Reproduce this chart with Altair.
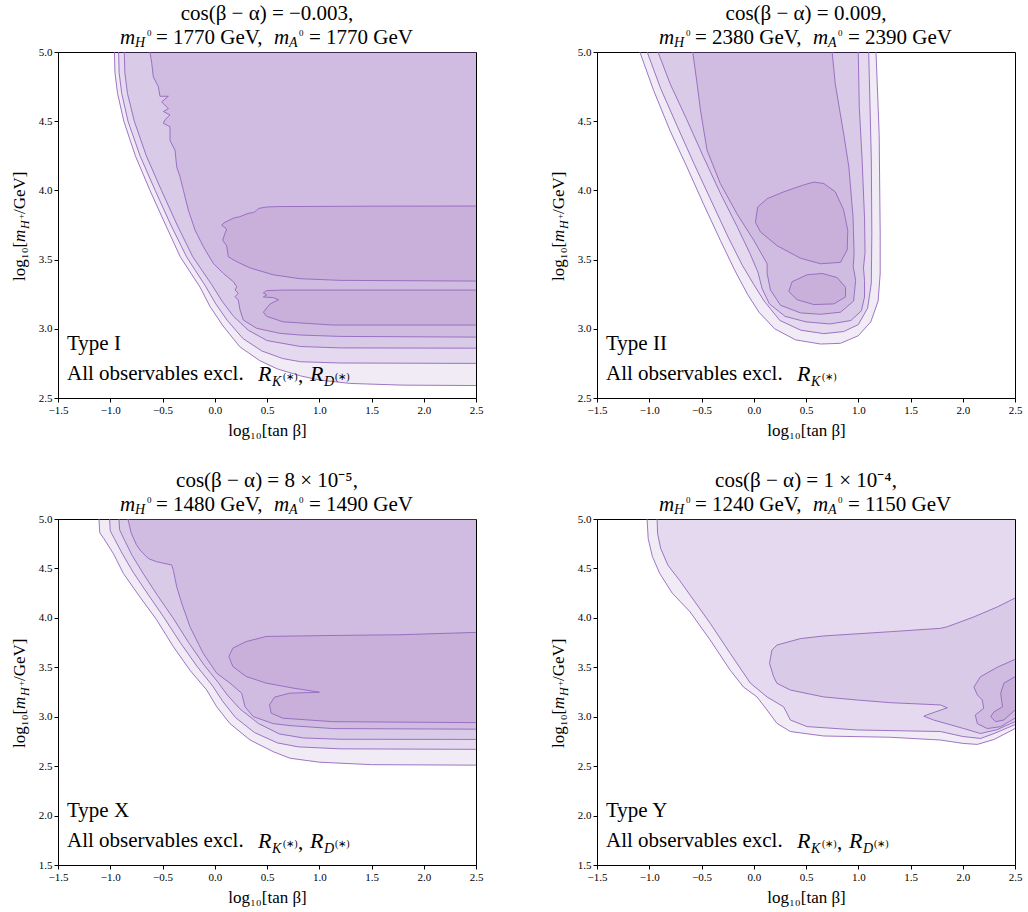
import altair as alt
import pandas as pd

# ---------------------------------------------------------------- data
X_RANGE = [-1.5, 2.5]
Y_RANGE_TOP = [2.5, 5.0]
Y_RANGE_BOTTOM = [1.5, 5.0]
X_TICKS = [-1.5, -1.0, -0.5, 0.0, 0.5, 1.0, 1.5, 2.0, 2.5]
Y_TICKS_TOP = [2.5, 3.0, 3.5, 4.0, 4.5, 5.0]
Y_TICKS_BOTTOM = [1.5, 2.0, 2.5, 3.0, 3.5, 4.0, 4.5, 5.0]

# ---- Type I contour lines (log10 tan beta, log10 mH+)
I_L1 = [(-0.96, 5.0), (-0.955, 4.85), (-0.93, 4.70), (-0.87, 4.50), (-0.76, 4.25), (-0.62, 4.00),
        (-0.47, 3.75), (-0.33, 3.52), (-0.14, 3.30), (-0.045, 3.16), (0.08, 3.02), (0.24, 2.87),
        (0.43, 2.77), (0.60, 2.71), (0.82, 2.66), (1.0, 2.63), (1.3, 2.605), (1.8, 2.593), (2.5, 2.59)]
I_L2 = [(-0.92, 5.0), (-0.915, 4.85), (-0.89, 4.70), (-0.83, 4.50), (-0.715, 4.25), (-0.57, 4.00),
        (-0.42, 3.75), (-0.27, 3.52), (-0.09, 3.31), (0.01, 3.18), (0.12, 3.06), (0.27, 2.93),
        (0.45, 2.84), (0.65, 2.785), (0.82, 2.762), (1.2, 2.753), (2.5, 2.75)]
I_L3 = [(-0.866, 5.0), (-0.86, 4.85), (-0.835, 4.70), (-0.77, 4.50), (-0.655, 4.25), (-0.51, 4.00),
        (-0.36, 3.75), (-0.21, 3.52), (-0.03, 3.32), (0.07, 3.20), (0.18, 3.09), (0.32, 2.99),
        (0.50, 2.915), (0.82, 2.872), (1.2, 2.862), (2.5, 2.86)]
I_L4 = [(-0.62, 5.0), (-0.603, 4.92), (-0.588, 4.82), (-0.54, 4.75), (-0.524, 4.68), (-0.444, 4.68),
        (-0.508, 4.64), (-0.444, 4.59), (-0.492, 4.57), (-0.428, 4.545), (-0.476, 4.51), (-0.492, 4.485),
        (-0.428, 4.46), (-0.428, 4.36), (-0.38, 4.29), (-0.364, 4.17), (-0.333, 4.10), (-0.30, 4.00),
        (-0.253, 3.858), (-0.189, 3.714), (-0.109, 3.593), (-0.014, 3.473), (0.082, 3.40), (0.178, 3.34),
        (0.21, 3.304), (0.194, 3.28), (0.225, 3.257), (0.194, 3.232), (0.225, 3.208), (0.242, 3.136),
        (0.273, 3.064), (0.40, 3.004), (0.624, 2.967), (0.816, 2.955), (1.2, 2.945), (2.5, 2.94)]
I_L5A = [(2.5, 3.887), (1.5, 3.886), (0.6, 3.883), (0.497, 3.88), (0.42, 3.87), (0.40, 3.855),
         (0.37, 3.84), (0.32, 3.834), (0.24, 3.81), (0.18, 3.80), (0.098, 3.77), (0.066, 3.75),
         (0.114, 3.72), (0.098, 3.69), (0.076, 3.64), (0.114, 3.60), (0.13, 3.52), (0.21, 3.485),
         (0.337, 3.44), (0.56, 3.39), (0.816, 3.362), (1.2, 3.35), (2.5, 3.345)]
I_L5B = [(2.5, 3.28), (0.656, 3.28), (0.497, 3.276), (0.465, 3.26), (0.497, 3.245), (0.465, 3.23),
         (0.56, 3.225), (0.61, 3.21), (0.53, 3.18), (0.465, 3.12), (0.497, 3.09), (0.656, 3.05),
         (1.135, 3.027), (2.5, 3.027)]

# ---- Type II
II_L1 = [(-1.09, 5.0), (-0.957, 4.72), (-0.80, 4.43), (-0.64, 4.17), (-0.48, 3.90), (-0.32, 3.64),
         (-0.18, 3.42), (-0.06, 3.25), (0.05, 3.12), (0.20, 3.00), (0.40, 2.92), (0.64, 2.89),
         (0.83, 2.895), (1.0, 2.95), (1.12, 3.05), (1.19, 3.20), (1.21, 3.40), (1.21, 3.69),
         (1.20, 4.41), (1.17, 5.0)]
II_L2 = [(-1.02, 5.0), (-0.89, 4.735), (-0.73, 4.46), (-0.57, 4.19), (-0.41, 3.93), (-0.25, 3.67),
         (-0.11, 3.46), (0.0, 3.32), (0.10, 3.20), (0.25, 3.06), (0.45, 2.99), (0.67, 2.965),
         (0.86, 2.98), (1.0, 3.03), (1.09, 3.15), (1.125, 3.33), (1.13, 3.69), (1.125, 4.22), (1.10, 5.0)]
II_L3 = [(-0.916, 5.0), (-0.80, 4.77), (-0.64, 4.51), (-0.48, 4.24), (-0.32, 3.98), (-0.16, 3.74),
         (-0.04, 3.55), (0.04, 3.41), (0.08, 3.29), (0.15, 3.18), (0.30, 3.09), (0.50, 3.05),
         (0.73, 3.035), (0.93, 3.06), (1.03, 3.13), (1.06, 3.23), (1.06, 3.35), (1.05, 3.44),
         (1.065, 3.55), (1.06, 3.80), (1.037, 4.22), (1.01, 4.60), (1.0, 5.0)]
II_L4 = [(-0.584, 5.0), (-0.542, 4.77), (-0.51, 4.58), (-0.447, 4.29), (-0.32, 4.05), (-0.16, 3.83),
         (0.0, 3.64), (0.128, 3.47), (0.128, 3.40), (0.16, 3.28), (0.256, 3.17), (0.447, 3.115),
         (0.64, 3.105), (0.83, 3.12), (0.955, 3.20), (0.975, 3.35), (0.952, 3.45), (0.96, 3.54),
         (0.95, 3.81), (0.91, 4.17), (0.86, 4.41), (0.78, 4.77), (0.75, 5.0)]
II_L5A = [(0.016, 3.77), (0.038, 3.88), (0.128, 3.94), (0.288, 3.99), (0.479, 4.04), (0.575, 4.06),
          (0.67, 4.05), (0.78, 3.99), (0.86, 3.86), (0.90, 3.71), (0.894, 3.57), (0.83, 3.48),
          (0.64, 3.47), (0.447, 3.51), (0.224, 3.60), (0.064, 3.70)]
II_L5B = [(0.335, 3.27), (0.367, 3.34), (0.51, 3.39), (0.655, 3.40), (0.798, 3.37), (0.878, 3.30),
          (0.878, 3.23), (0.766, 3.18), (0.575, 3.175), (0.415, 3.21)]

# ---- Type X
X_L1 = [(-1.108, 5.0), (-1.10, 4.86), (-1.06, 4.80), (-0.97, 4.65), (-0.875, 4.45), (-0.715, 4.21),
        (-0.556, 3.98), (-0.397, 3.71), (-0.237, 3.47), (-0.077, 3.27), (0.019, 3.10), (0.146, 2.93),
        (0.337, 2.765), (0.56, 2.646), (0.72, 2.58), (1.0, 2.54), (1.5, 2.515), (2.5, 2.51)]
X_L2 = [(-1.006, 5.0), (-1.0, 4.88), (-0.96, 4.80), (-0.88, 4.64), (-0.78, 4.46), (-0.64, 4.24),
        (-0.49, 4.01), (-0.33, 3.75), (-0.17, 3.51), (-0.02, 3.31), (0.08, 3.15), (0.20, 2.99),
        (0.38, 2.84), (0.60, 2.735), (0.80, 2.695), (1.2, 2.675), (2.5, 2.67)]
X_L3 = [(-0.917, 5.0), (-0.91, 4.89), (-0.87, 4.80), (-0.79, 4.63), (-0.68, 4.44), (-0.55, 4.23),
        (-0.40, 4.00), (-0.25, 3.75), (-0.10, 3.52), (0.03, 3.35), (0.12, 3.22), (0.24, 3.08),
        (0.42, 2.93), (0.62, 2.825), (0.85, 2.785), (1.2, 2.772), (2.5, 2.77)]
X_L4 = [(-0.831, 5.0), (-0.80, 4.86), (-0.75, 4.74), (-0.715, 4.686), (-0.636, 4.60), (-0.556, 4.568),
        (-0.412, 4.535), (-0.396, 4.48), (-0.364, 4.315), (-0.316, 4.147), (-0.237, 3.91), (-0.11, 3.64),
        (0.019, 3.44), (0.146, 3.34), (0.258, 3.237), (0.29, 3.10), (0.37, 3.0), (0.56, 2.93),
        (0.72, 2.91), (1.13, 2.88), (2.5, 2.874)]
X_L5 = [(2.5, 3.853), (1.767, 3.829), (1.13, 3.822), (0.492, 3.812), (0.30, 3.76), (0.173, 3.694),
        (0.135, 3.61), (0.173, 3.508), (0.30, 3.407), (0.492, 3.34), (0.747, 3.29), (1.002, 3.248),
        (0.715, 3.238), (0.572, 3.198), (0.524, 3.12), (0.54, 3.036), (0.651, 2.985), (1.13, 2.95),
        (2.5, 2.94)]

# ---- Type Y
Y_L1 = [(-1.021, 5.0), (-1.01, 4.80), (-0.97, 4.62), (-0.90, 4.45), (-0.78, 4.25), (-0.609, 4.06),
        (-0.417, 3.776), (-0.225, 3.47), (-0.098, 3.30), (0.031, 3.20), (0.127, 3.068), (0.222, 2.933),
        (0.35, 2.85), (0.669, 2.805), (1.308, 2.792), (1.788, 2.764), (2.0, 2.73), (2.14, 2.72),
        (2.3, 2.77), (2.5, 2.88)]
Y_L2 = [(-0.925, 5.0), (-0.92, 4.85), (-0.89, 4.70), (-0.82, 4.53), (-0.71, 4.38), (-0.609, 4.23),
        (-0.417, 3.945), (-0.225, 3.64), (-0.033, 3.34), (0.127, 3.20), (0.286, 3.10), (0.318, 3.035),
        (0.35, 2.967), (0.51, 2.90), (0.99, 2.866), (1.788, 2.85), (2.0, 2.80), (2.17, 2.78),
        (2.3, 2.83), (2.5, 2.92)]
Y_L3 = [(2.5, 4.20), (2.33, 4.11), (2.107, 4.01), (1.852, 3.91), (1.788, 3.894), (1.308, 3.86),
        (0.669, 3.817), (0.446, 3.79), (0.222, 3.725), (0.174, 3.675), (0.151, 3.54), (0.19, 3.405),
        (0.222, 3.338), (0.35, 3.27), (0.669, 3.20), (0.989, 3.169), (1.308, 3.142), (1.788, 3.119),
        (1.852, 3.09), (1.66, 3.02), (1.628, 3.005), (1.72, 2.967), (2.01, 2.88), (2.17, 2.83),
        (2.33, 2.87), (2.5, 2.95)]
Y_L4 = [(2.5, 3.58), (2.33, 3.50), (2.17, 3.405), (2.107, 3.30), (2.14, 3.22), (2.187, 3.17),
        (2.20, 3.085), (2.12, 3.017), (2.14, 2.93), (2.235, 2.88), (2.363, 2.90), (2.5, 2.985)]
Y_L5 = [(2.5, 3.405), (2.394, 3.34), (2.363, 3.237), (2.38, 3.10), (2.30, 3.05), (2.267, 3.0),
        (2.315, 2.95), (2.394, 2.967), (2.5, 3.068)]

# How each contour is closed: "corner" -> via the upper-right corner of the range,
# "edge" -> straight along the frame, "loop" -> closed curve
CURVES = [
    [(I_L1, "corner"), (I_L2, "corner"), (I_L3, "corner"), (I_L4, "corner"), (I_L5A, "edge"), (I_L5B, "edge")],
    [(II_L1, "edge"), (II_L2, "edge"), (II_L3, "edge"), (II_L4, "edge"), (II_L5A, "loop"), (II_L5B, "loop")],
    [(X_L1, "corner"), (X_L2, "corner"), (X_L3, "corner"), (X_L4, "corner"), (X_L5, "edge")],
    [(Y_L1, "corner"), (Y_L2, "corner"), (Y_L3, "edge"), (Y_L4, "edge"), (Y_L5, "edge")],
]
CORNER = (2.5, 5.0)

TYPES = ["Type I", "Type II", "Type X", "Type Y"]
COS_TEXT = ["cos(β − α) = −0.003,", "cos(β − α) = 0.009,",
            "cos(β − α) = 8 × 10⁻⁵,", "cos(β − α) = 1 × 10⁻⁴,"]
M_H0 = ["1770", "2380", "1480", "1240"]
M_A0 = ["1770", "2390", "1490", "1150"]
EXCLUDED = [["K", "D"], ["K"], ["K", "D"], ["K", "D"]]

# ---------------------------------------------------------------- style
FONT = "Liberation Serif"
PURPLE = "#9467bd"
ALPHA = 0.13
W, H = 418, 346


def build(curves):
    fills, lines = [], []
    for k, (pts, kind) in enumerate(curves):
        fpts = list(pts) + ([CORNER] if kind == "corner" else [])
        for i, (x, y) in enumerate(fpts):
            fills.append({"piece": k, "i": i, "x": x, "y": y})
        lpts = list(pts) + ([pts[0]] if kind == "loop" else [])
        for i, (x, y) in enumerate(lpts):
            lines.append({"piece": k, "i": i, "x": x, "y": y})
    return pd.DataFrame(fills), pd.DataFrame(lines)


def text_layer(rows, **mk):
    df = pd.DataFrame(rows, columns=["t", "px", "py", "fs"])
    return alt.Chart(df).mark_text(font=FONT, color="black", baseline="middle", **mk).encode(
        x=alt.X("px:Q", scale=None, axis=None),
        y=alt.Y("py:Q", scale=None, axis=None),
        size=alt.Size("fs:Q", scale=None, legend=None),
        text="t:N",
    )


def panel(idx):
    fill_df, line_df = build(CURVES[idx])
    top = idx < 2
    xs = alt.Scale(domain=X_RANGE, nice=False, zero=False)
    ys = alt.Scale(domain=Y_RANGE_TOP if top else Y_RANGE_BOTTOM, nice=False, zero=False)
    x_axis = alt.Axis(values=X_TICKS, format=".1f", title="log₁₀[tan β]")
    y_axis = alt.Axis(values=Y_TICKS_TOP if top else Y_TICKS_BOTTOM, format=".1f", title=None)

    fills = alt.Chart(fill_df).mark_line(
        filled=True, fill=PURPLE, fillOpacity=ALPHA, strokeOpacity=0,
        interpolate="linear-closed", clip=True,
    ).encode(
        x=alt.X("x:Q", scale=xs, axis=x_axis),
        y=alt.Y("y:Q", scale=ys, axis=y_axis),
        detail="piece:N",
        order=alt.Order("i:Q"),
    )
    lines = alt.Chart(line_df).mark_line(stroke=PURPLE, strokeWidth=0.9, clip=True).encode(
        x="x:Q", y="y:Q", detail="piece:N", order=alt.Order("i:Q"),
    )

    # title line 2 : m_{H^0} = ... GeV, m_{A^0} = ... GeV
    normal = [
        ("= " + M_H0[idx] + " GeV,", 98, -14, 21),
        ("= " + M_A0[idx] + " GeV", 251, -14, 21),
        ("0", 89, -19, 9),
        ("0", 241, -19, 9),
        (TYPES[idx], 9, 292, 21),
        ("All observables excl.", 9, 322, 21),
    ]
    italic = [
        ("m", 62, -14, 21), ("H", 77, -9, 14),
        ("m", 216, -14, 21), ("A", 231, -9, 14),
    ]
    rx = 200
    for j, sub in enumerate(EXCLUDED[idx]):
        if j > 0:
            normal.append((",", rx - 12, 324, 21))
        italic.append(("R", rx, 322, 22))
        italic.append((sub, rx + 14, 330, 14))
        normal.append(("(∗)", rx + 25, 325, 10))
        rx += 52
    centered = [(COS_TEXT[idx], 209, -38, 21)]
    rot_normal = [("log₁₀[", -38, 229, 17), ("/GeV]", -38, 162, 17), ("+", -37, 167, 9)]
    rot_italic = [("m", -38, 190, 17), ("H", -33, 177, 12)]

    return alt.layer(
        fills, lines,
        text_layer(normal, align="left"),
        text_layer(italic, align="left", fontStyle="italic"),
        text_layer(centered, align="center"),
        text_layer(rot_normal, align="left", angle=270),
        text_layer(rot_italic, align="left", angle=270, fontStyle="italic"),
    ).properties(width=W, height=H)


chart = alt.concat(
    *[panel(i) for i in range(4)], columns=2, spacing=121, bounds="flush"
).properties(
    padding={"left": 10, "top": 2, "right": 5, "bottom": 5}
).configure_view(
    stroke="black", strokeWidth=1
).configure_axis(
    labelFont=FONT, labelFontSize=11, labelColor="black",
    tickColor="black", domainColor="black", tickSize=4, tickWidth=1, domainWidth=1,
    grid=False, titleFont=FONT, titleFontSize=17, titleFontWeight="normal",
    titleColor="black", labelPadding=2, titlePadding=7, labelFlush=False, labelOverlap=False,
)

chart.save("out.html", embed_options={"renderer": "svg", "actions": False})
